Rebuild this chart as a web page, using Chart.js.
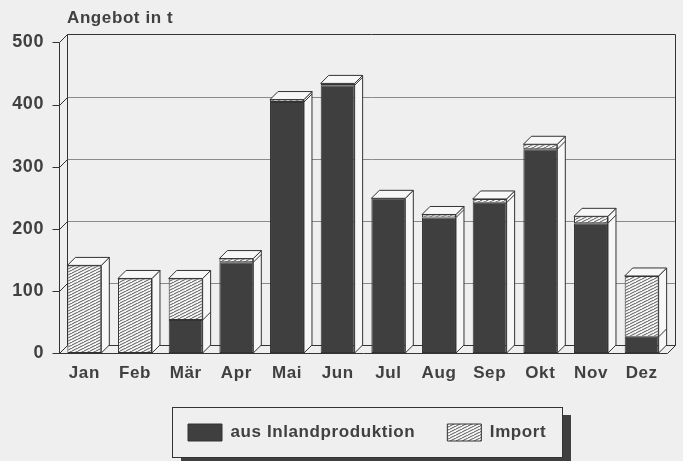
<!DOCTYPE html>
<html>
<head>
<meta charset="utf-8">
<title>Angebot in t</title>
<script src="https://cdn.jsdelivr.net/npm/chart.js@4"></script>
<style>
  html, body { margin: 0; padding: 0; background: #efefef; overflow: hidden; }
  canvas { display: block; }
</style>
</head>
<body>
<canvas id="chart_angebot" width="683" height="461"></canvas>
<script>
var months = ['Jan', 'Feb', 'Mär', 'Apr', 'Mai', 'Jun', 'Jul', 'Aug', 'Sep', 'Okt', 'Nov', 'Dez'];
var inland = [0, 0, 53, 146, 404, 431, 249, 218, 242, 328, 209, 26];
var importe = [141, 120, 67, 6, 4, 3, 0, 5, 6, 8, 11, 98];

var paper = '#efefef';
var face = '#f7f7f7';
var ink = '#333333';
var textInk = '#404040';
var dark = '#3f3f3f';
var depth = 8;

// diagonal hatch for the import parts
function hatch() {
  var c = document.createElement('canvas');
  c.width = 6;
  c.height = 3;
  var g = c.getContext('2d');
  g.fillStyle = face;
  g.fillRect(0, 0, 6, 3);
  g.strokeStyle = '#444444';
  g.lineWidth = 0.9;
  g.beginPath();
  g.moveTo(-6, 3); g.lineTo(6, -3);
  g.moveTo(0, 3); g.lineTo(6, 0);
  g.moveTo(6, 3); g.lineTo(12, 0);
  g.stroke();
  return g.createPattern(c, 'repeat');
}

function line(ctx, x1, y1, x2, y2) {
  ctx.beginPath();
  ctx.moveTo(x1, y1);
  ctx.lineTo(x2, y2);
  ctx.stroke();
}

function poly(ctx, pts) {
  ctx.beginPath();
  ctx.moveTo(pts[0], pts[1]);
  for (var i = 2; i < pts.length; i += 2) ctx.lineTo(pts[i], pts[i + 1]);
  ctx.closePath();
  ctx.fill();
  ctx.stroke();
}

var box3d = {
  id: 'box3d',
  afterLayout: function (chart) {
    // move title and legend to where the figure has them
    chart.titleBlock.left = 67;
    chart.titleBlock.right = 300;
    chart.legend.left = 156;
    chart.legend.right = 683;
    chart.legend.top = 392;
    chart.legend.bottom = 457;
  },
  beforeDraw: function (chart) {
    var ctx = chart.ctx;
    ctx.letterSpacing = '0.6px';
    ctx.save();
    ctx.fillStyle = paper;
    ctx.fillRect(0, 0, chart.width, chart.height);
    // legend frame with shadow
    ctx.fillStyle = dark;
    ctx.fillRect(181, 415, 390, 46);
    ctx.fillStyle = paper;
    ctx.strokeStyle = ink;
    ctx.lineWidth = 1;
    ctx.fillRect(172.5, 407.5, 390, 50);
    ctx.strokeRect(172.5, 407.5, 390, 50);
    ctx.restore();
  },
  beforeDatasetsDraw: function (chart) {
    var ctx = chart.ctx;
    var a = chart.chartArea;
    var y = chart.scales.y;
    var left = Math.round(a.left) + 0.5;
    var right = Math.round(a.right) + 0.5;
    var top = Math.round(a.top) + 0.5;
    var bottom = Math.round(a.bottom) + 0.5;
    ctx.save();
    ctx.lineWidth = 1;
    // grid on the back wall, tick and slant on the side wall
    y.ticks.forEach(function (t) {
      var py = Math.round(y.getPixelForValue(t.value)) + 0.5;
      ctx.strokeStyle = '#8a8a8a';
      if (t.value > 0 && t.value < 500) line(ctx, left + depth, py - depth, right + depth, py - depth);
      ctx.strokeStyle = ink;
      line(ctx, left - 7, py, left, py);
      line(ctx, left, py, left + depth, py - depth);
    });
    ctx.strokeStyle = ink;
    line(ctx, left, top, left, bottom);
    line(ctx, left + depth, top - depth, left + depth, bottom - depth);
    line(ctx, left + depth, top - depth, right + depth, top - depth);
    line(ctx, right + depth, top - depth, right + depth, bottom - depth);
    line(ctx, left + depth, bottom - depth, right + depth, bottom - depth);
    line(ctx, left, bottom, right, bottom);
    line(ctx, right, bottom, right + depth, bottom - depth);
    ctx.restore();
  },
  afterDatasetsDraw: function (chart) {
    var ctx = chart.ctx;
    var low = chart.getDatasetMeta(0).data;
    var high = chart.getDatasetMeta(1).data;
    ctx.save();
    ctx.lineWidth = 1;
    ctx.strokeStyle = ink;
    ctx.fillStyle = face;
    months.forEach(function (m, i) {
      var b = low[i];
      var x2 = b.x + b.width / 2;
      var x1 = b.x - b.width / 2;
      var yTop = importe[i] > 0 ? high[i].y : b.y;
      // side and top faces
      poly(ctx, [x2, b.base, x2 + depth, b.base - depth, x2 + depth, yTop - depth, x2, yTop]);
      poly(ctx, [x1, yTop, x1 + depth, yTop - depth, x2 + depth, yTop - depth, x2, yTop]);
      if (inland[i] > 0 && importe[i] > 0) line(ctx, x2, b.y, x2 + depth, b.y - depth);
    });
    ctx.restore();
  }
};

var chart_angebot = new Chart(document.getElementById('chart_angebot'), {
  type: 'bar',
  data: {
    labels: months,
    datasets: [
      {
        label: 'aus Inlandproduktion',
        data: inland,
        backgroundColor: dark,
        borderColor: ink,
        borderWidth: 1,
        borderSkipped: false
      },
      {
        label: 'Import',
        data: importe,
        backgroundColor: hatch(),
        borderColor: ink,
        borderWidth: 1,
        borderSkipped: false
      }
    ]
  },
  options: {
    animation: false,
    responsive: false,
    barPercentage: 0.67,
    categoryPercentage: 1,
    layout: { padding: { right: 16 } },
    plugins: {
      tooltip: { enabled: false },
      title: {
        display: true,
        text: 'Angebot in t',
        align: 'start',
        color: textInk,
        font: { family: '"Liberation Sans"', size: 17, weight: 'bold' },
        padding: { top: 8, bottom: 14 }
      },
      legend: {
        position: 'bottom',
        align: 'start',
        labels: {
          color: textInk,
          font: { family: '"Liberation Sans"', size: 17, weight: 'bold' },
          boxWidth: 34,
          boxHeight: 17,
          padding: 32
        }
      }
    },
    scales: {
      x: {
        stacked: true,
        grid: { display: false },
        border: { display: false },
        ticks: {
          color: textInk,
          maxRotation: 0,
          padding: 2,
          font: { family: '"Liberation Sans"', size: 17, weight: 'bold' }
        },
        afterFit: function (s) { s.height = 49; }
      },
      y: {
        stacked: true,
        min: 0,
        max: 500,
        grid: { display: false },
        border: { display: false },
        ticks: {
          stepSize: 100,
          color: textInk,
          padding: 7,
          font: { family: '"Liberation Sans"', size: 18, weight: 'bold' }
        },
        afterFit: function (s) { s.width = 59; }
      }
    }
  },
  plugins: [box3d]
});
</script>
</body>
</html>
